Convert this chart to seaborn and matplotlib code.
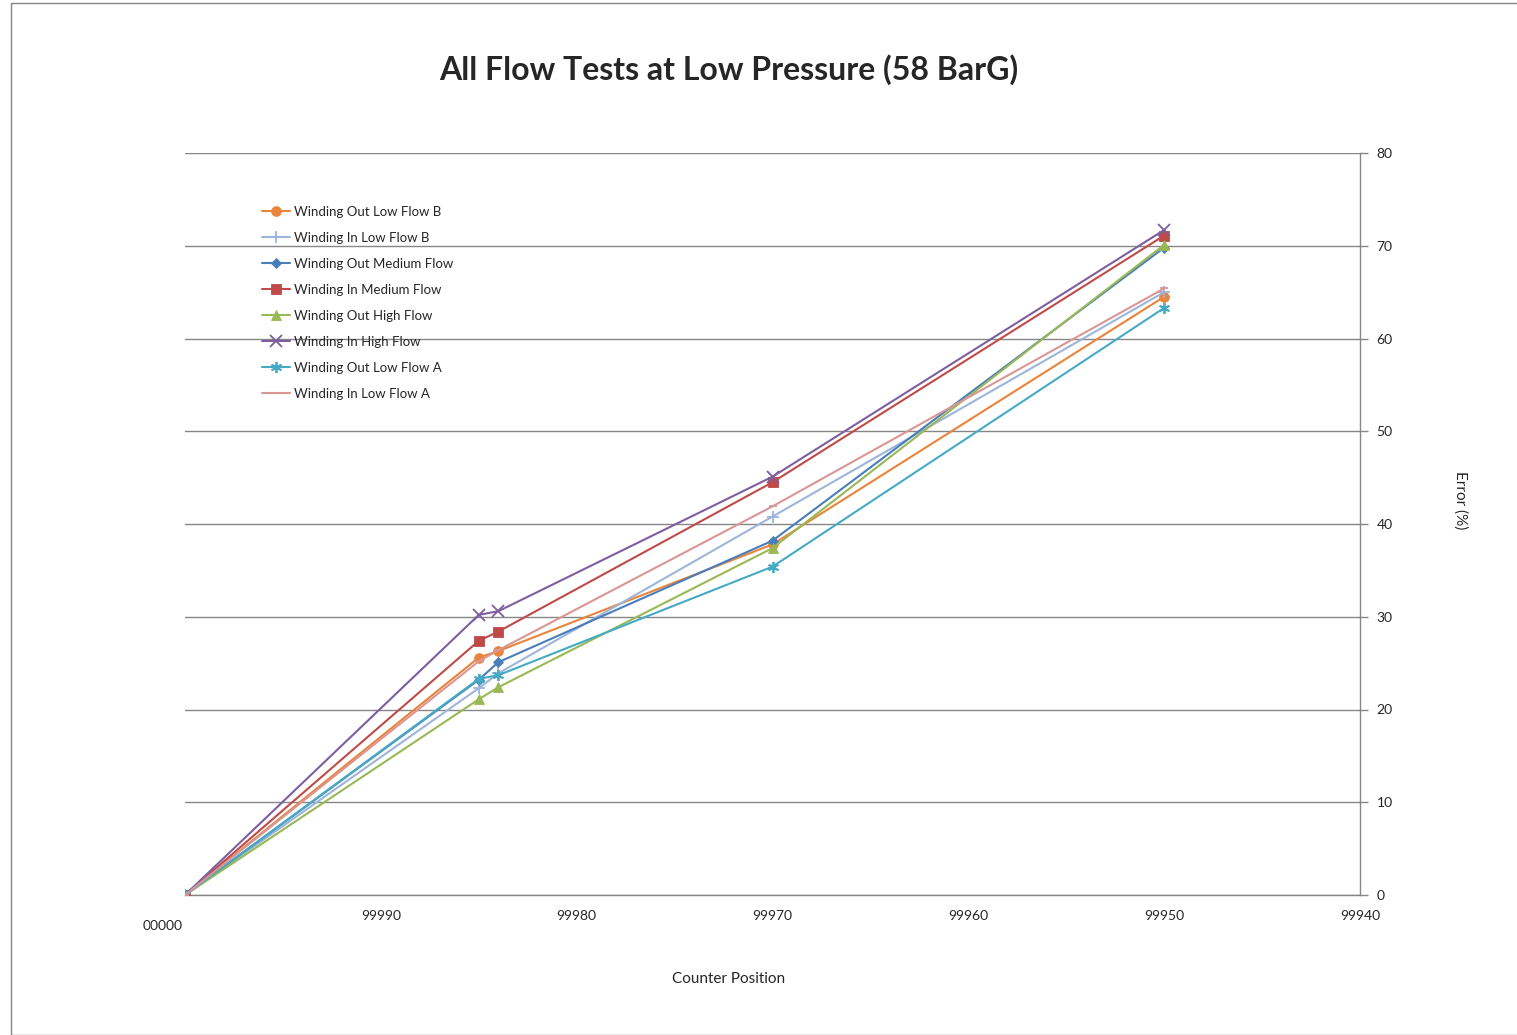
import matplotlib
matplotlib.use("Agg")
import matplotlib.pyplot as plt
import matplotlib.transforms as mtransforms
from matplotlib.patches import Rectangle
import seaborn as sns
import pandas as pd

sns.set_theme(style="white")
plt.rcParams['font.family'] = ['Lato', 'DejaVu Sans']

counter = [100000, 99985, 99984, 99970, 99950]

series_names = [
    "Winding Out Low Flow B",
    "Winding In Low Flow B",
    "Winding Out Medium Flow",
    "Winding In Medium Flow",
    "Winding Out High Flow",
    "Winding In High Flow",
    "Winding Out Low Flow A",
    "Winding In Low Flow A",
]

out_low_b = [0, 25.6, 26.3, 37.8, 64.5]
in_low_b = [0, 22.3, 23.9, 40.8, 65.0]
out_medium = [0, 23.2, 25.1, 38.2, 69.8]
in_medium = [0, 27.4, 28.4, 44.5, 71.1]
out_high = [0, 21.1, 22.4, 37.4, 70.1]
in_high = [0, 30.2, 30.6, 45.1, 71.7]
out_low_a = [0, 23.3, 23.7, 35.4, 63.3]
in_low_a = [0, 25.2, 26.4, 41.9, 65.4]

series_values = [out_low_b, in_low_b, out_medium, in_medium,
                 out_high, in_high, out_low_a, in_low_a]

colors = ["#E9843A", "#9DB5DA", "#4A7EBB", "#BE4B48",
          "#98B954", "#7D5FA0", "#46AAC4", "#DA9694"]
markers = ["o", "+", "D", "s", "^", "x", (6, 2, 0), "_"]
msizes = [7, 8, 5.5, 7, 7, 8, 8, 6]

x_ticks = [100000, 99990, 99980, 99970, 99960, 99950, 99940]
x_ticklabels = ["00000", "99990", "99980", "99970", "99960", "99950", "99940"]
y_ticks = [0, 10, 20, 30, 40, 50, 60, 70, 80]

fig = plt.figure(figsize=(15.17, 10.35), dpi=100)
ax = fig.add_axes([185 / 1517, 140 / 1035, (1360 - 185) / 1517, (895 - 153) / 1035])

for name, vals, c, m, ms in zip(series_names, series_values, colors, markers, msizes):
    df = pd.DataFrame({"Counter Position": counter, "Error (%)": vals})
    sns.lineplot(data=df, x="Counter Position", y="Error (%)", ax=ax,
                 color=c, marker=m, markersize=ms, linewidth=1.5,
                 markeredgewidth=1.3 if m in ("+", "x", (6, 2, 0), "_") else 0.6,
                 markeredgecolor=c, label=name, sort=False, zorder=3)

ax.set_xlim(100000, 99940)
ax.set_ylim(0, 80)
ax.set_xticks(x_ticks)
ax.set_xticklabels(x_ticklabels)
ax.set_yticks(y_ticks)
ax.yaxis.tick_right()
ax.yaxis.set_label_position("right")
ax.grid(axis="y", color="#868686", linewidth=1.0)
ax.set_axisbelow(True)

for side in ["top", "left"]:
    ax.spines[side].set_visible(False)
for side in ["bottom", "right"]:
    ax.spines[side].set_color("#868686")
    ax.spines[side].set_linewidth(1.0)

ax.tick_params(axis="y", which="both", direction="out", length=6, width=1,
               color="#868686", labelsize=10, pad=6, right=True, left=False)
ax.tick_params(axis="x", which="both", length=0, labelsize=10, pad=11)

# the first counter label sits lower and to the left
first = ax.get_xticklabels()[0]
first.set_transform(first.get_transform() +
                    mtransforms.ScaledTranslation(-0.22, -0.1, fig.dpi_scale_trans))

ax.set_xlabel("Counter Position", fontsize=11)
ax.xaxis.set_label_coords((729 - 185) / 1175, (895 - 979) / 742)
ax.xaxis.label.set_va("center")
ax.set_ylabel("Error (%)", fontsize=11, rotation=-90)
ax.yaxis.set_label_coords((1460 - 185) / 1175, (895 - 500) / 742)
ax.yaxis.label.set_va("center")

fig.text(729 / 1517, 1 - 70 / 1035, "All Flow Tests at Low Pressure (58 BarG)",
         ha="center", va="center", fontsize=23, fontweight="bold")

leg = ax.legend(loc="upper left", bbox_to_anchor=((262 - 185) / 1175, (895 - 206) / 742),
                frameon=False, fontsize=9.5, handlelength=2.1, labelspacing=1.06,
                handletextpad=0.3, borderaxespad=0, borderpad=0)

# chart area border
fig.patches.append(Rectangle((11 / 1517, 0), 1.0, 1 - 3 / 1035,
                             transform=fig.transFigure, fill=False,
                             edgecolor="#868686", linewidth=1.0))

fig.savefig("out.png", dpi=100)
